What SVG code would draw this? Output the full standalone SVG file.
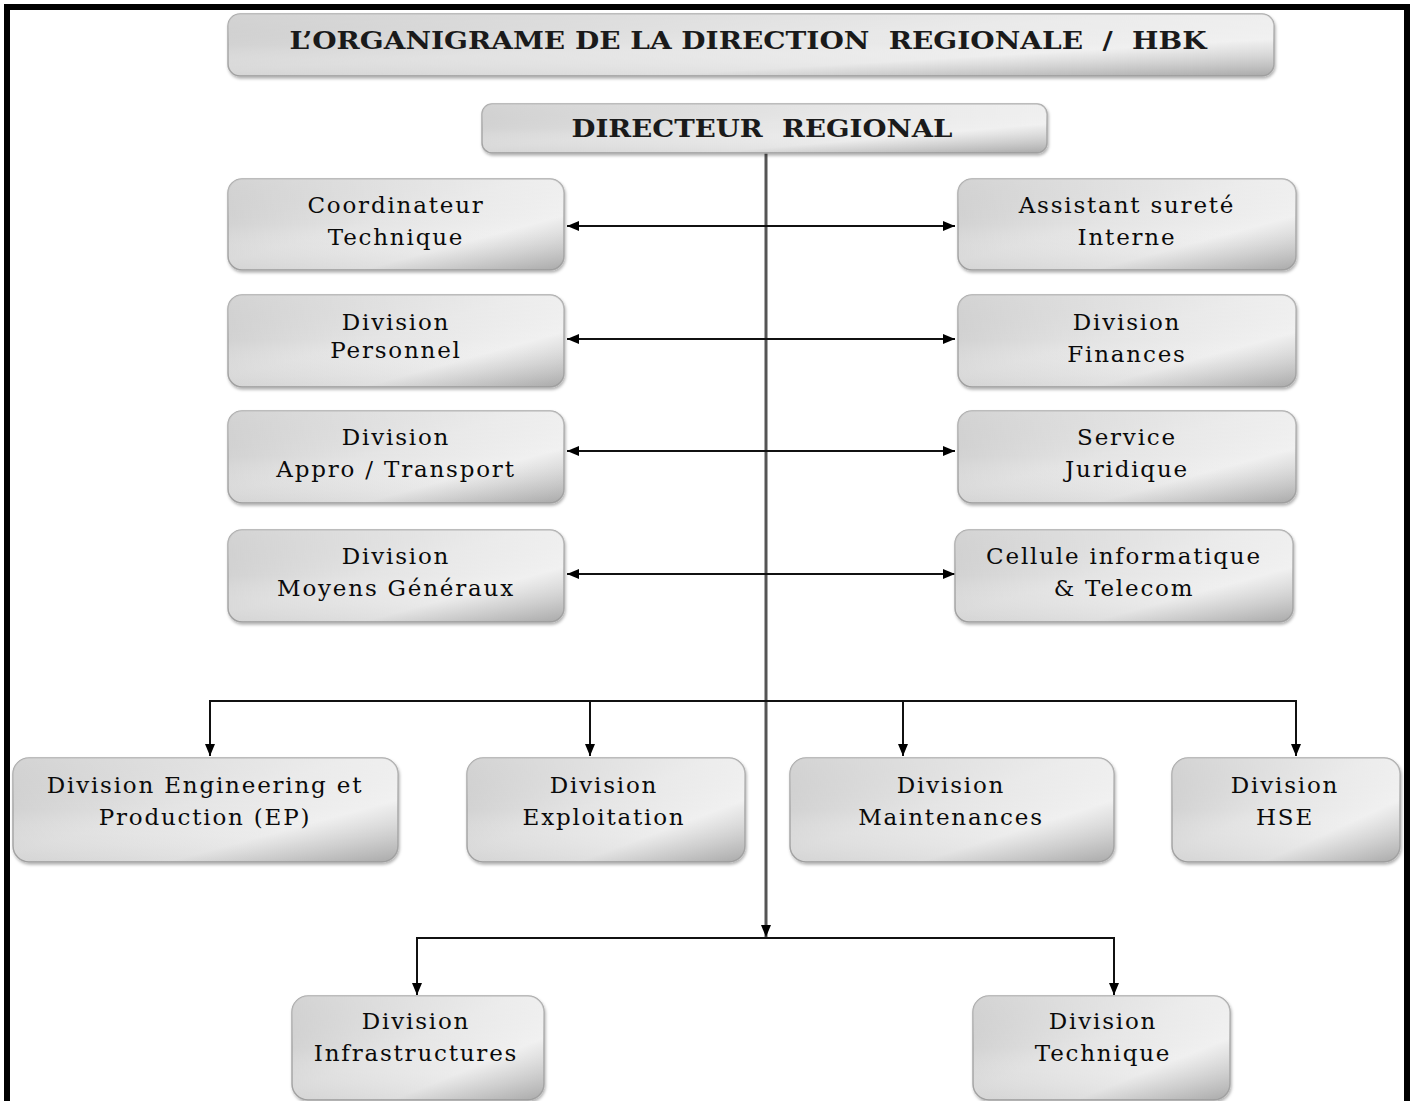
<svg xmlns="http://www.w3.org/2000/svg" width="1413" height="1101" viewBox="0 0 1413 1101">
<defs>
<linearGradient id="g" x1="0" y1="0" x2="1" y2="1">
<stop offset="0" stop-color="#bdbdbd"/>
<stop offset="0.45" stop-color="#e4e4e4"/>
<stop offset="0.7" stop-color="#f0f0f0"/>
<stop offset="1" stop-color="#b8b8b8"/>
</linearGradient>
<linearGradient id="gv" x1="0" y1="0" x2="0" y2="1">
<stop offset="0" stop-color="#ffffff" stop-opacity="0.35"/>
<stop offset="0.5" stop-color="#ffffff" stop-opacity="0"/>
<stop offset="1" stop-color="#000000" stop-opacity="0.08"/>
</linearGradient>
<filter id="sh" x="-5%" y="-10%" width="115%" height="130%">
<feDropShadow dx="1" dy="2" stdDeviation="1.5" flood-color="#000" flood-opacity="0.3"/>
</filter>
<marker id="ah" viewBox="0 0 12 10" refX="12" refY="5" markerWidth="12" markerHeight="10" markerUnits="userSpaceOnUse" orient="auto-start-reverse">
<path d="M0,0 L12,5 L0,10 z" fill="#000"/>
</marker>
</defs>
<style>
.box{fill:url(#g);stroke:#a8a8a8;stroke-width:1.5;filter:url(#sh)}
.ov{fill:url(#gv);stroke:none}
.t{font-family:"DejaVu Serif","Liberation Serif",serif;font-size:23px;fill:#0a0a0a;text-anchor:middle;letter-spacing:1.8px;white-space:pre}
.h{font-family:"DejaVu Serif","Liberation Serif",serif;font-weight:bold;fill:#1a1a1a;text-anchor:middle;white-space:pre}
.c{stroke:#111;stroke-width:2;fill:none}
.m{stroke:#555;stroke-width:3;fill:none}
</style>
<rect x="7" y="7" width="1400" height="1110" fill="none" stroke="#000" stroke-width="6"/>

<g id="connectors">
<line class="m" x1="766" y1="153" x2="766" y2="937" marker-end="url(#ah)"/>
<line class="c" x1="567" y1="226" x2="955" y2="226" marker-start="url(#ah)" marker-end="url(#ah)"/>
<line class="c" x1="567" y1="339" x2="955" y2="339" marker-start="url(#ah)" marker-end="url(#ah)"/>
<line class="c" x1="567" y1="451" x2="955" y2="451" marker-start="url(#ah)" marker-end="url(#ah)"/>
<line class="c" x1="567" y1="574" x2="955" y2="574" marker-start="url(#ah)" marker-end="url(#ah)"/>
<polyline class="c" points="210,756 210,701 1296,701 1296,756" marker-start="url(#ah)" marker-end="url(#ah)"/>
<line class="c" x1="590" y1="701" x2="590" y2="756" marker-end="url(#ah)"/>
<line class="c" x1="903" y1="701" x2="903" y2="756" marker-end="url(#ah)"/>
<polyline class="c" points="417,995 417,938 1114,938 1114,995" marker-start="url(#ah)" marker-end="url(#ah)"/>
</g>

<g id="title">
<rect class="box" x="228" y="14" width="1046" height="62" rx="12"/>
<rect class="ov" x="228" y="14" width="1046" height="62" rx="12"/>
<text class="h" x="748" y="49" font-size="25" textLength="917" lengthAdjust="spacingAndGlyphs">L’ORGANIGRAME DE LA DIRECTION  REGIONALE  /  HBK</text>
</g>

<g id="directeur">
<rect class="box" x="482" y="104" width="565" height="49" rx="10"/>
<rect class="ov" x="482" y="104" width="565" height="49" rx="10"/>
<text class="h" x="762" y="137" font-size="24" textLength="381" lengthAdjust="spacingAndGlyphs">DIRECTEUR  REGIONAL</text>
</g>

<g id="coord-tech">
<rect class="box" x="228" y="179" width="336" height="91" rx="14"/>
<rect class="ov" x="228" y="179" width="336" height="91" rx="14"/>
<text class="t" x="396" y="213">Coordinateur</text>
<text class="t" x="396" y="245">Technique</text>
</g>
<g id="assistant">
<rect class="box" x="958" y="179" width="338" height="91" rx="14"/>
<rect class="ov" x="958" y="179" width="338" height="91" rx="14"/>
<text class="t" x="1127" y="213">Assistant sureté</text>
<text class="t" x="1127" y="245">Interne</text>
</g>

<g id="div-personnel">
<rect class="box" x="228" y="295" width="336" height="92" rx="14"/>
<rect class="ov" x="228" y="295" width="336" height="92" rx="14"/>
<text class="t" x="396" y="330">Division</text>
<text class="t" x="396" y="358">Personnel</text>
</g>
<g id="div-finances">
<rect class="box" x="958" y="295" width="338" height="92" rx="14"/>
<rect class="ov" x="958" y="295" width="338" height="92" rx="14"/>
<text class="t" x="1127" y="330">Division</text>
<text class="t" x="1127" y="362">Finances</text>
</g>

<g id="div-appro">
<rect class="box" x="228" y="411" width="336" height="92" rx="14"/>
<rect class="ov" x="228" y="411" width="336" height="92" rx="14"/>
<text class="t" x="396" y="445">Division</text>
<text class="t" x="396" y="477">Appro / Transport</text>
</g>
<g id="service-juridique">
<rect class="box" x="958" y="411" width="338" height="92" rx="14"/>
<rect class="ov" x="958" y="411" width="338" height="92" rx="14"/>
<text class="t" x="1127" y="445">Service</text>
<text class="t" x="1127" y="477">Juridique</text>
</g>

<g id="div-moyens">
<rect class="box" x="228" y="530" width="336" height="92" rx="14"/>
<rect class="ov" x="228" y="530" width="336" height="92" rx="14"/>
<text class="t" x="396" y="564">Division</text>
<text class="t" x="396" y="596">Moyens Généraux</text>
</g>
<g id="cellule-info">
<rect class="box" x="955" y="530" width="338" height="92" rx="14"/>
<rect class="ov" x="955" y="530" width="338" height="92" rx="14"/>
<text class="t" x="1124" y="564">Cellule informatique</text>
<text class="t" x="1124" y="596">&amp; Telecom</text>
</g>

<g id="div-ep">
<rect class="box" x="13" y="758" width="385" height="104" rx="16"/>
<rect class="ov" x="13" y="758" width="385" height="104" rx="16"/>
<text class="t" x="205" y="793">Division Engineering et</text>
<text class="t" x="205" y="825">Production (EP)</text>
</g>
<g id="div-exploitation">
<rect class="box" x="467" y="758" width="278" height="104" rx="16"/>
<rect class="ov" x="467" y="758" width="278" height="104" rx="16"/>
<text class="t" x="604" y="793">Division</text>
<text class="t" x="604" y="825">Exploitation</text>
</g>
<g id="div-maintenances">
<rect class="box" x="790" y="758" width="324" height="104" rx="16"/>
<rect class="ov" x="790" y="758" width="324" height="104" rx="16"/>
<text class="t" x="951" y="793">Division</text>
<text class="t" x="951" y="825">Maintenances</text>
</g>
<g id="div-hse">
<rect class="box" x="1172" y="758" width="228" height="104" rx="16"/>
<rect class="ov" x="1172" y="758" width="228" height="104" rx="16"/>
<text class="t" x="1285" y="793">Division</text>
<text class="t" x="1285" y="825">HSE</text>
</g>

<g id="div-infra">
<rect class="box" x="292" y="996" width="252" height="104" rx="16"/>
<rect class="ov" x="292" y="996" width="252" height="104" rx="16"/>
<text class="t" x="416" y="1029">Division</text>
<text class="t" x="416" y="1061">Infrastructures</text>
</g>
<g id="div-technique">
<rect class="box" x="973" y="996" width="257" height="104" rx="16"/>
<rect class="ov" x="973" y="996" width="257" height="104" rx="16"/>
<text class="t" x="1103" y="1029">Division</text>
<text class="t" x="1103" y="1061">Technique</text>
</g>
</svg>
